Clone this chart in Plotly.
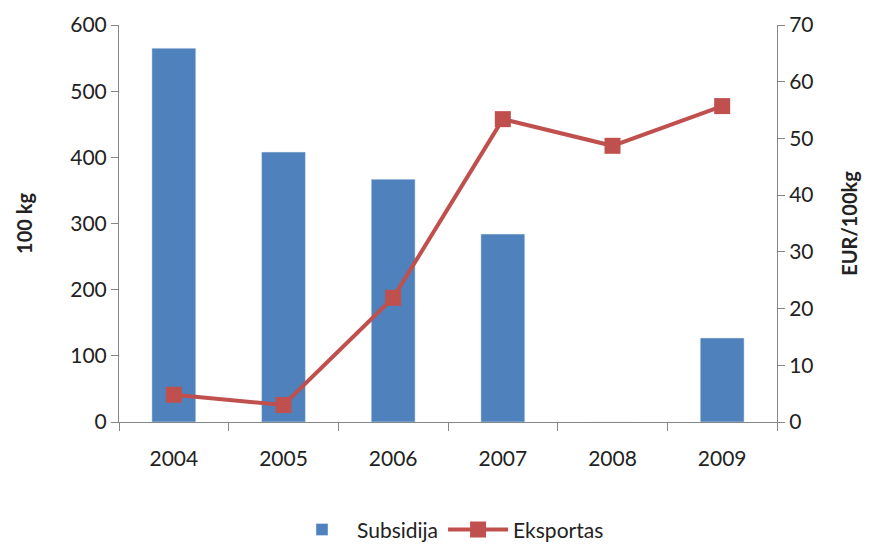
import plotly.graph_objects as go

years = ["2004", "2005", "2006", "2007", "2008", "2009"]
subsidija = [565, 408, 367, 284, 0, 127]
eksportas = [4.8, 3.0, 21.9, 53.4, 48.7, 55.7]

fig = go.Figure()
fig.add_bar(x=years, y=subsidija, name="Subsidija", marker_color="#4F81BD", yaxis="y")
fig.add_scatter(x=years, y=eksportas, name="Eksportas", yaxis="y2",
                mode="lines+markers",
                line=dict(color="#C0504D", width=4),
                marker=dict(symbol="square", size=16, color="#C0504D"))

font = "Lato, Noto Sans, sans-serif"
fig.update_layout(
    width=878, height=544,
    margin=dict(l=111, r=109, t=17, b=130, autoexpand=False),
    plot_bgcolor="white", paper_bgcolor="white",
    font=dict(family=font, size=21, color="#222"),
    bargap=0.6,
    showlegend=True,
    legend=dict(orientation="h", x=0.5, xanchor="center", y=-0.22, yanchor="top",
                font=dict(size=21), itemwidth=60),
    xaxis=dict(showline=True, linecolor="#868686", ticks="outside", tickson="boundaries",
               ticklen=8, tickcolor="#868686", ticklabelstandoff=18, showgrid=False),
    yaxis=dict(range=[0, 600], dtick=100, showline=True, linecolor="#868686",
               ticks="outside", ticklen=7, tickcolor="#868686", showgrid=False,
               title=dict(text="<b>100 kg</b>", font=dict(size=20), standoff=32)),
    yaxis2=dict(range=[0, 70], dtick=10, overlaying="y", side="right", showline=True,
                linecolor="#868686", ticks="outside", ticklen=7, tickcolor="#868686",
                showgrid=False,
                title=dict(text="<b>EUR/100kg</b>", font=dict(size=20), standoff=30)),
)

fig.write_html("out.html")
